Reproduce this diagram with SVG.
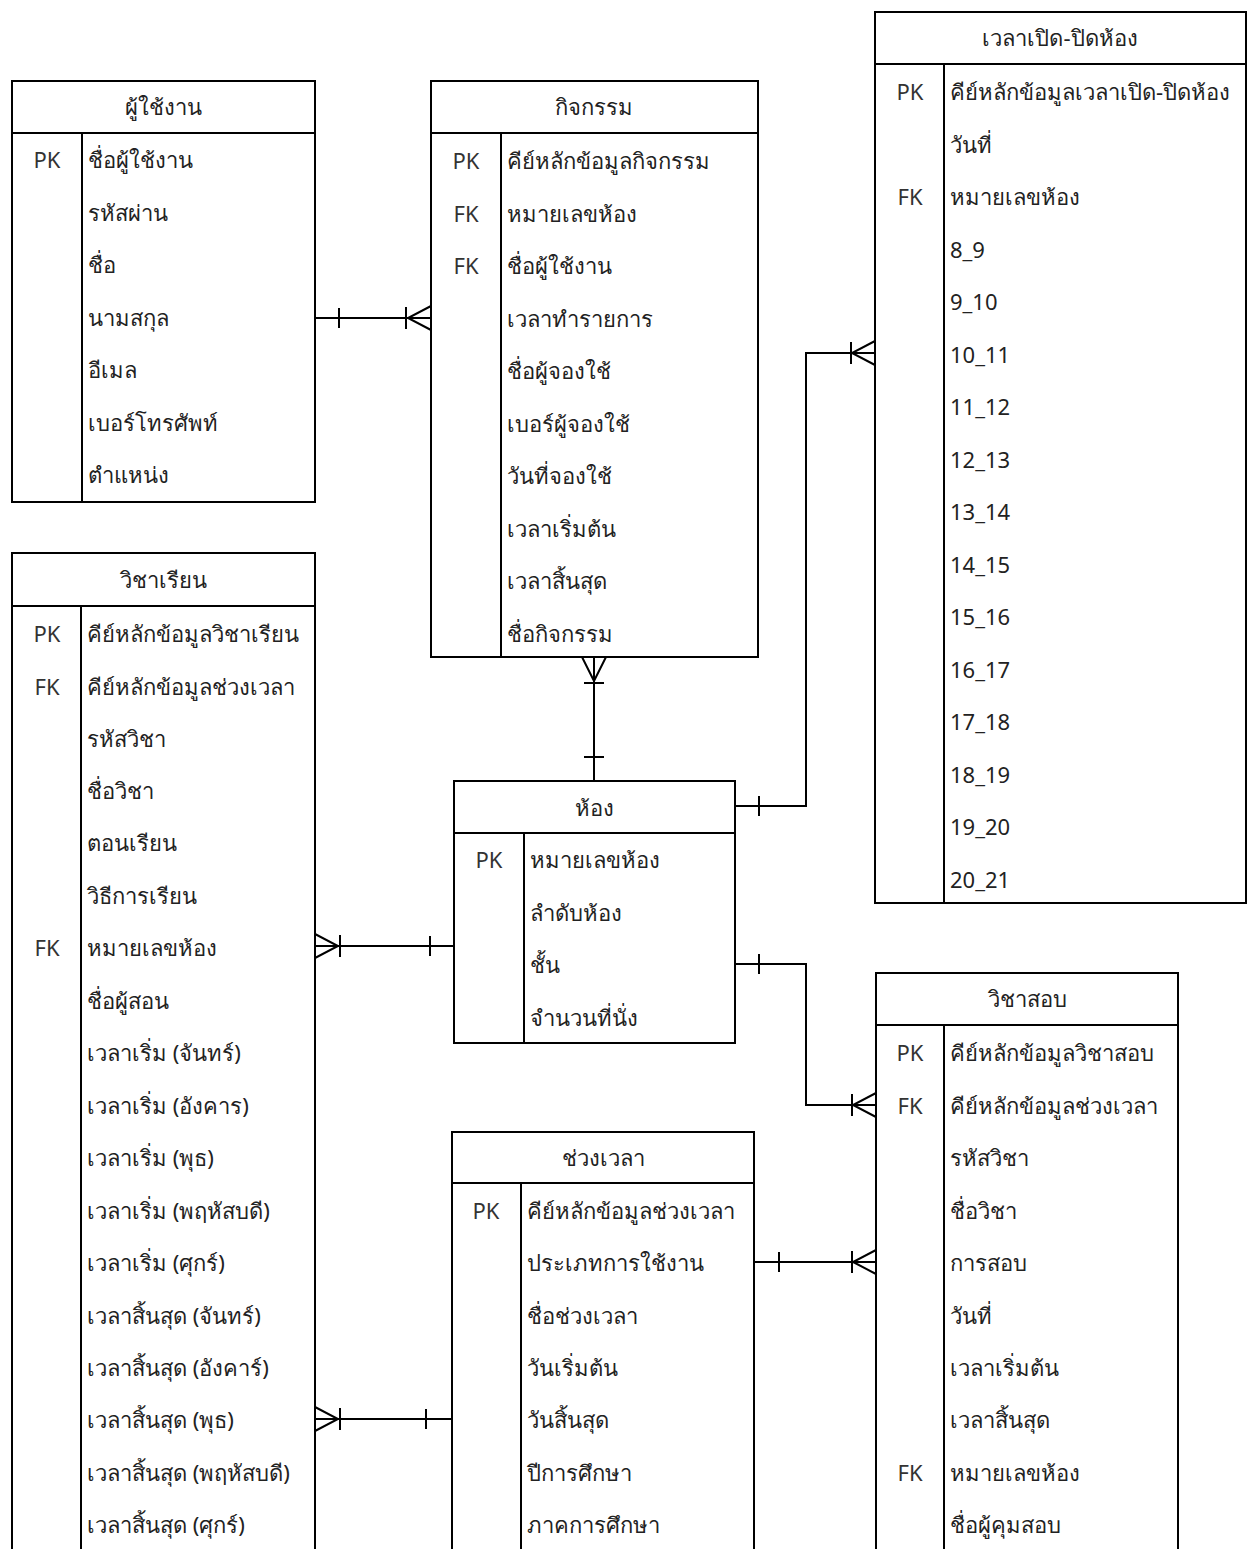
<svg xmlns="http://www.w3.org/2000/svg" width="1247" height="1549" viewBox="0 0 1247 1549">
<style>
.box{fill:#fff;stroke:#000;stroke-width:2}
.ln{stroke:#000;stroke-width:2;fill:none}
.t{font-family:"Noto Sans","DejaVu Sans",sans-serif;font-size:22px;fill:#222}
.h{text-anchor:middle}
.k{text-anchor:middle;fill:#333}
</style>
<rect width="1247" height="1549" fill="#fff"/>
<g id="connectors" class="ln">
<path d="M315,318H431M339,308V328M406,307V329M431,306L408,318L431,330"/>
<path d="M594,657V781M584,683H604M582,657L594,681L606,657M584,757H604"/>
<path d="M735,806H806V353H875M759,796V816M851,342V364M875,341L852,353L875,365"/>
<path d="M735,964H806V1105H876M759,954V974M852,1094V1116M876,1093L853,1105L876,1117"/>
<path d="M454,946H315M430,936V956M340,935V957M315,934L338,946L315,958"/>
<path d="M452,1419H315M426,1409V1429M340,1408V1430M315,1407L338,1419L315,1431"/>
<path d="M754,1262H876M779,1252V1272M852,1251V1273M876,1250L853,1262L876,1274"/>
</g>
<g id="users">
<rect class="box" x="12" y="81" width="303" height="421"/>
<path class="ln" d="M12,133H315M82,133V502"/>
<text class="t h" x="163" y="115">ผู้ใช้งาน</text>
<text class="t k" x="47" y="168">PK</text>
<text class="t" x="88" y="168">ชื่อผู้ใช้งาน</text>
<text class="t" x="88" y="221">รหัสผ่าน</text>
<text class="t" x="88" y="273">ชื่อ</text>
<text class="t" x="88" y="326">นามสกุล</text>
<text class="t" x="88" y="378">อีเมล</text>
<text class="t" x="88" y="431">เบอร์โทรศัพท์</text>
<text class="t" x="88" y="483">ตำแหน่ง</text>
</g>
<g id="activity">
<rect class="box" x="431" y="81" width="327" height="576"/>
<path class="ln" d="M431,133H758M501,133V657"/>
<text class="t h" x="594" y="115">กิจกรรม</text>
<text class="t k" x="466" y="169">PK</text>
<text class="t k" x="466" y="222">FK</text>
<text class="t k" x="466" y="274">FK</text>
<text class="t" x="507" y="169">คีย์หลักข้อมูลกิจกรรม</text>
<text class="t" x="507" y="222">หมายเลขห้อง</text>
<text class="t" x="507" y="274">ชื่อผู้ใช้งาน</text>
<text class="t" x="507" y="327">เวลาทำรายการ</text>
<text class="t" x="507" y="379">ชื่อผู้จองใช้</text>
<text class="t" x="507" y="432">เบอร์ผู้จองใช้</text>
<text class="t" x="507" y="484">วันที่จองใช้</text>
<text class="t" x="507" y="537">เวลาเริ่มต้น</text>
<text class="t" x="507" y="589">เวลาสิ้นสุด</text>
<text class="t" x="507" y="642">ชื่อกิจกรรม</text>
</g>
<g id="openclose">
<rect class="box" x="875" y="12" width="371" height="891"/>
<path class="ln" d="M875,64H1246M944,64V903"/>
<text class="t h" x="1060" y="46">เวลาเปิด-ปิดห้อง</text>
<text class="t k" x="910" y="100">PK</text>
<text class="t k" x="910" y="205">FK</text>
<text class="t" x="950" y="100">คีย์หลักข้อมูลเวลาเปิด-ปิดห้อง</text>
<text class="t" x="950" y="153">วันที่</text>
<text class="t" x="950" y="205">หมายเลขห้อง</text>
<text class="t" x="950" y="258">8_9</text>
<text class="t" x="950" y="310">9_10</text>
<text class="t" x="950" y="363">10_11</text>
<text class="t" x="950" y="415">11_12</text>
<text class="t" x="950" y="468">12_13</text>
<text class="t" x="950" y="520">13_14</text>
<text class="t" x="950" y="573">14_15</text>
<text class="t" x="950" y="625">15_16</text>
<text class="t" x="950" y="678">16_17</text>
<text class="t" x="950" y="730">17_18</text>
<text class="t" x="950" y="783">18_19</text>
<text class="t" x="950" y="835">19_20</text>
<text class="t" x="950" y="888">20_21</text>
</g>
<g id="course">
<rect class="box" x="12" y="553" width="303" height="1010"/>
<path class="ln" d="M12,606H315M81,606V1563"/>
<text class="t h" x="163" y="588">วิชาเรียน</text>
<text class="t k" x="47" y="642">PK</text>
<text class="t k" x="47" y="695">FK</text>
<text class="t k" x="47" y="956">FK</text>
<text class="t" x="87" y="642">คีย์หลักข้อมูลวิชาเรียน</text>
<text class="t" x="87" y="695">คีย์หลักข้อมูลช่วงเวลา</text>
<text class="t" x="87" y="747">รหัสวิชา</text>
<text class="t" x="87" y="799">ชื่อวิชา</text>
<text class="t" x="87" y="851">ตอนเรียน</text>
<text class="t" x="87" y="904">วิธีการเรียน</text>
<text class="t" x="87" y="956">หมายเลขห้อง</text>
<text class="t" x="87" y="1009">ชื่อผู้สอน</text>
<text class="t" x="87" y="1061">เวลาเริ่ม (จันทร์)</text>
<text class="t" x="87" y="1114">เวลาเริ่ม (อังคาร)</text>
<text class="t" x="87" y="1166">เวลาเริ่ม (พุธ)</text>
<text class="t" x="87" y="1219">เวลาเริ่ม (พฤหัสบดี)</text>
<text class="t" x="87" y="1271">เวลาเริ่ม (ศุกร์)</text>
<text class="t" x="87" y="1324">เวลาสิ้นสุด (จันทร์)</text>
<text class="t" x="87" y="1376">เวลาสิ้นสุด (อังคาร์)</text>
<text class="t" x="87" y="1428">เวลาสิ้นสุด (พุธ)</text>
<text class="t" x="87" y="1481">เวลาสิ้นสุด (พฤหัสบดี)</text>
<text class="t" x="87" y="1533">เวลาสิ้นสุด (ศุกร์)</text>
</g>
<g id="room">
<rect class="box" x="454" y="781" width="281" height="262"/>
<path class="ln" d="M454,833H735M524,833V1043"/>
<text class="t h" x="594" y="816">ห้อง</text>
<text class="t k" x="489" y="868">PK</text>
<text class="t" x="530" y="868">หมายเลขห้อง</text>
<text class="t" x="530" y="921">ลำดับห้อง</text>
<text class="t" x="530" y="973">ชั้น</text>
<text class="t" x="530" y="1026">จำนวนที่นั่ง</text>
</g>
<g id="period">
<rect class="box" x="452" y="1132" width="302" height="431"/>
<path class="ln" d="M452,1183H754M521,1183V1563"/>
<text class="t h" x="603" y="1166">ช่วงเวลา</text>
<text class="t k" x="486" y="1219">PK</text>
<text class="t" x="527" y="1219">คีย์หลักข้อมูลช่วงเวลา</text>
<text class="t" x="527" y="1271">ประเภทการใช้งาน</text>
<text class="t" x="527" y="1324">ชื่อช่วงเวลา</text>
<text class="t" x="527" y="1376">วันเริ่มต้น</text>
<text class="t" x="527" y="1428">วันสิ้นสุด</text>
<text class="t" x="527" y="1481">ปีการศึกษา</text>
<text class="t" x="527" y="1533">ภาคการศึกษา</text>
</g>
<g id="exam">
<rect class="box" x="876" y="973" width="302" height="590"/>
<path class="ln" d="M876,1025H1178M944,1025V1563"/>
<text class="t h" x="1027" y="1007">วิชาสอบ</text>
<text class="t k" x="910" y="1061">PK</text>
<text class="t k" x="910" y="1114">FK</text>
<text class="t k" x="910" y="1481">FK</text>
<text class="t" x="950" y="1061">คีย์หลักข้อมูลวิชาสอบ</text>
<text class="t" x="950" y="1114">คีย์หลักข้อมูลช่วงเวลา</text>
<text class="t" x="950" y="1166">รหัสวิชา</text>
<text class="t" x="950" y="1219">ชื่อวิชา</text>
<text class="t" x="950" y="1271">การสอบ</text>
<text class="t" x="950" y="1324">วันที่</text>
<text class="t" x="950" y="1376">เวลาเริ่มต้น</text>
<text class="t" x="950" y="1428">เวลาสิ้นสุด</text>
<text class="t" x="950" y="1481">หมายเลขห้อง</text>
<text class="t" x="950" y="1533">ชื่อผู้คุมสอบ</text>
</g>
</svg>
